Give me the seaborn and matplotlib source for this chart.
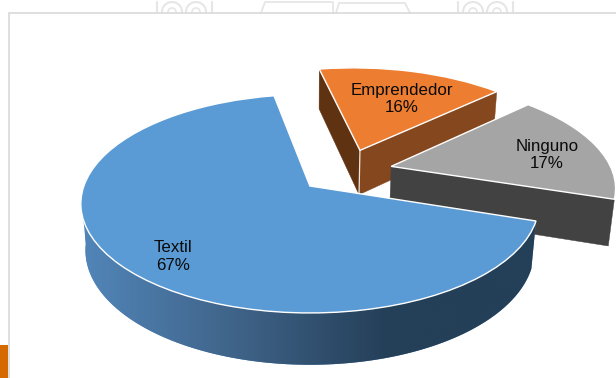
import numpy as np
import matplotlib
matplotlib.use("Agg")
import matplotlib.pyplot as plt
from matplotlib.path import Path
from matplotlib.patches import Polygon, Rectangle
from matplotlib.transforms import Transform
import seaborn as sns

categories = ["Textil", "Emprendedor", "Ninguno"]
values = [67, 16, 17]
top_colors = ["#5B9BD5", "#ED7D31", "#A5A5A5"]

sns.set_theme(style="white")
plt.rcParams["font.family"] = ["Liberation Sans", "DejaVu Sans"]

# perspective camera for the tilted pie (pixels)
APEX = (310.0, 186.0)
A, B, P = 226.0, 106.4, 0.162
DEPTH, Q = 47.0, 0.02
PIE_C = (0.165, 0.145)


def project(u, v, z=0.0):
    u, v, z = np.asarray(u, float), np.asarray(v, float), np.asarray(z, float)
    w = 1 + P * v + Q * z
    return APEX[0] + A * u / w, APEX[1] - (B * v - DEPTH * z) / w


class Tilt(Transform):
    input_dims = output_dims = 2
    is_separable = False
    has_inverse = False

    def transform_non_affine(self, values):
        x, y = project(values[:, 0], values[:, 1])
        return np.column_stack([x, y])

    def transform_path_non_affine(self, path):
        return Path(self.transform_non_affine(path.vertices), path.codes)


fig = plt.figure(figsize=(6.16, 3.78), dpi=100, facecolor="white")
ax = fig.add_axes([0, 0, 1, 1])

wedges, _ = ax.pie(values, colors=top_colors, explode=[0.22, 0.22, 0.21], center=PIE_C,
                   radius=1, startangle=-18.2, counterclock=False,
                   wedgeprops=dict(edgecolor="white", linewidth=1.0))


def rim(w, th):
    t = np.radians(th)
    return w.center[0] + w.r * np.cos(t), w.center[1] + w.r * np.sin(t)


def cut_face(w, th, color, zo):
    u, v = rim(w, th)
    cu, cv = w.center
    us, vs = np.array([cu, u, u, cu]), np.array([cv, v, v, cv])
    x, y = project(us, vs, np.array([0, 0, 1, 1]))
    ax.add_patch(Polygon(np.column_stack([x, y]), closed=True, facecolor=color,
                         edgecolor=color, linewidth=0.3, zorder=zo))


tilt = Tilt() + ax.transData
for w, zo in zip(wedges, [3.5, 1.5, 2.5]):
    w.set_transform(tilt)
    w.set_zorder(zo)
    w.set_clip_on(False)

# side faces, back to front
t_tex, t_emp, t_nin = wedges
cut_face(t_emp, t_emp.theta1, "#85471E", 1.1)
cut_face(t_emp, t_emp.theta2, "#5F3212", 1.2)
cut_face(t_nin, t_nin.theta1, "#424242", 2.1)

# rim of the large slice with a left-to-right shading
thetas = np.linspace(186, t_tex.theta2 % 360, 200)
u, v = rim(t_tex, thetas)
xt, yt = project(u, v, 0)
xb, yb = project(u, v, 1)
outline = np.column_stack([np.r_[xt, xb[::-1]], np.r_[yt, yb[::-1]]])
shade = np.array(sns.blend_palette(["#5185B8", "#3F6388", "#243F58", "#243F58"], 256))[None, :, :3]
clip = Polygon(outline, closed=True, transform=ax.transData)
im = ax.imshow(shade, extent=(85, 540, 378, 190), aspect="auto", zorder=3.1, interpolation="bilinear")
im.set_clip_path(clip)
# the image only spans from x=85: fill the leftmost sliver behind it
ax.add_patch(Polygon(outline, closed=True, facecolor="#5185B8", edgecolor="none", zorder=3.05))

ax.set_aspect("auto")
ax.set_xlim(0, 616)
ax.set_ylim(378, 0)
ax.set_axis_off()

# thin light edge down the front corner of the orange slice
x, y = project([t_emp.center[0]] * 2, [t_emp.center[1]] * 2, [0, 1])
ax.plot(x, y, color="#F0E6DE", lw=0.9, zorder=1.3)

# labels
label_pos = [(173, 256), (402, 99), (547, 155)]
for c, val, (lx, ly) in zip(categories, values, label_pos):
    ax.text(lx, ly, f"{c}\n{val}%", ha="center", va="center", fontsize=12.2,
            color="#0A0A0A", linespacing=1.25, zorder=6)

# surrounding frame and slide remnants
ax.plot([616, 8.7, 8.7], [12.8, 12.8, 378], color="#D9D9D9", lw=1.2, zorder=0.5, solid_joinstyle="miter")
ax.add_patch(Rectangle((0, 345), 8, 33, facecolor="#D56A00", edgecolor="none", zorder=0.6))
grey = "#E6E6E6"
for x0 in (154, 455):
    ax.plot([x0 + 3, x0 + 3], [2, 12], color=grey, lw=1.5, zorder=0.4)
    ax.plot([x0 + 58, x0 + 58], [2, 12], color=grey, lw=1.5, zorder=0.4)
    for cx in (x0 + 18, x0 + 42):
        t = np.radians(np.linspace(180, 360, 30))
        ax.plot(cx + 10 * np.cos(t), 12 + 10 * np.sin(t), color=grey, lw=1.5, zorder=0.4)
        ax.plot(cx + 4 * np.cos(t), 12 + 4 * np.sin(t), color=grey, lw=1.2, zorder=0.4)
ax.plot([261, 265, 333, 333], [13, 2, 2, 13], color=grey, lw=1.3, zorder=0.4)
ax.plot([336, 339, 405, 410], [13, 3, 3, 13], color=grey, lw=1.3, zorder=0.4)

fig.savefig("out.png", dpi=100, facecolor="white")
